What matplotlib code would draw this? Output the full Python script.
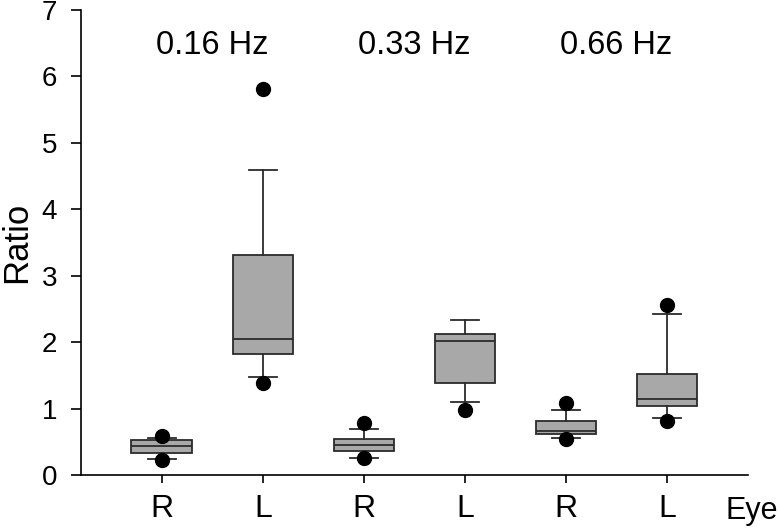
import numpy as np
import matplotlib.pyplot as plt

plt.rcParams['font.family'] = ['Liberation Sans', 'DejaVu Sans']

# box statistics, order: R, L, R, L, R, L
eyes = ['R', 'L', 'R', 'L', 'R', 'L']
freqs = ['0.16 Hz', '0.33 Hz', '0.66 Hz']
q1 = [0.33, 1.82, 0.36, 1.39, 0.62, 1.04]
med = [0.43, 2.04, 0.45, 2.02, 0.66, 1.14]
q3 = [0.52, 3.31, 0.54, 2.13, 0.81, 1.52]
whislo = [0.24, 1.47, 0.26, 1.10, 0.56, 0.86]
whishi = [0.55, 4.59, 0.69, 2.34, 0.98, 2.42]
fliers = [[0.23, 0.58], [1.38, 5.81], [0.26, 0.79], [0.98], [0.54, 1.08], [0.82, 2.56]]

stats = []
for i in range(len(eyes)):
    stats.append(dict(q1=q1[i], med=med[i], q3=q3[i], whislo=whislo[i],
                      whishi=whishi[i], fliers=fliers[i]))

fig = plt.figure(figsize=(7.8, 5.28), dpi=100)
ax = fig.add_axes([0.1038, 0.1004, 0.855, 0.8806])

pos = np.arange(1, len(eyes) + 1)
ax.bxp(stats, positions=pos, widths=0.6, patch_artist=True, showfliers=True,
       boxprops=dict(facecolor='#a8a8a8', edgecolor='#2b2b2b', linewidth=1.3),
       medianprops=dict(color='#2b2b2b', linewidth=1.3),
       whiskerprops=dict(color='#2b2b2b', linewidth=1.3),
       capprops=dict(color='#2b2b2b', linewidth=1.3),
       capwidths=0.28,
       flierprops=dict(marker='o', markerfacecolor='black', markeredgecolor='black',
                       markersize=10))

ax.set_xlim(0.2, 6.8)
ax.set_ylim(0, 7)
ax.set_yticks(range(8))
ax.set_xticks(pos)
ax.set_xticklabels(eyes)
ax.tick_params(axis='y', labelsize=20, length=7, width=1.2, pad=10)
ax.tick_params(axis='x', labelsize=23, length=6, width=1.2, pad=8)
ax.spines['top'].set_visible(False)
ax.spines['right'].set_visible(False)
ax.spines['left'].set_linewidth(1.2)
ax.spines['bottom'].set_linewidth(1.2)
ax.set_ylabel('Ratio', fontsize=25, labelpad=6)

for k, f in enumerate(freqs):
    ax.text(1.5 + 2 * k, 6.47, f, fontsize=23.5, ha='center', va='center')

fig.text(725 / 780, 1 - 519 / 528, 'Eye', fontsize=22, va='baseline', ha='left')

fig.savefig('out.png')
